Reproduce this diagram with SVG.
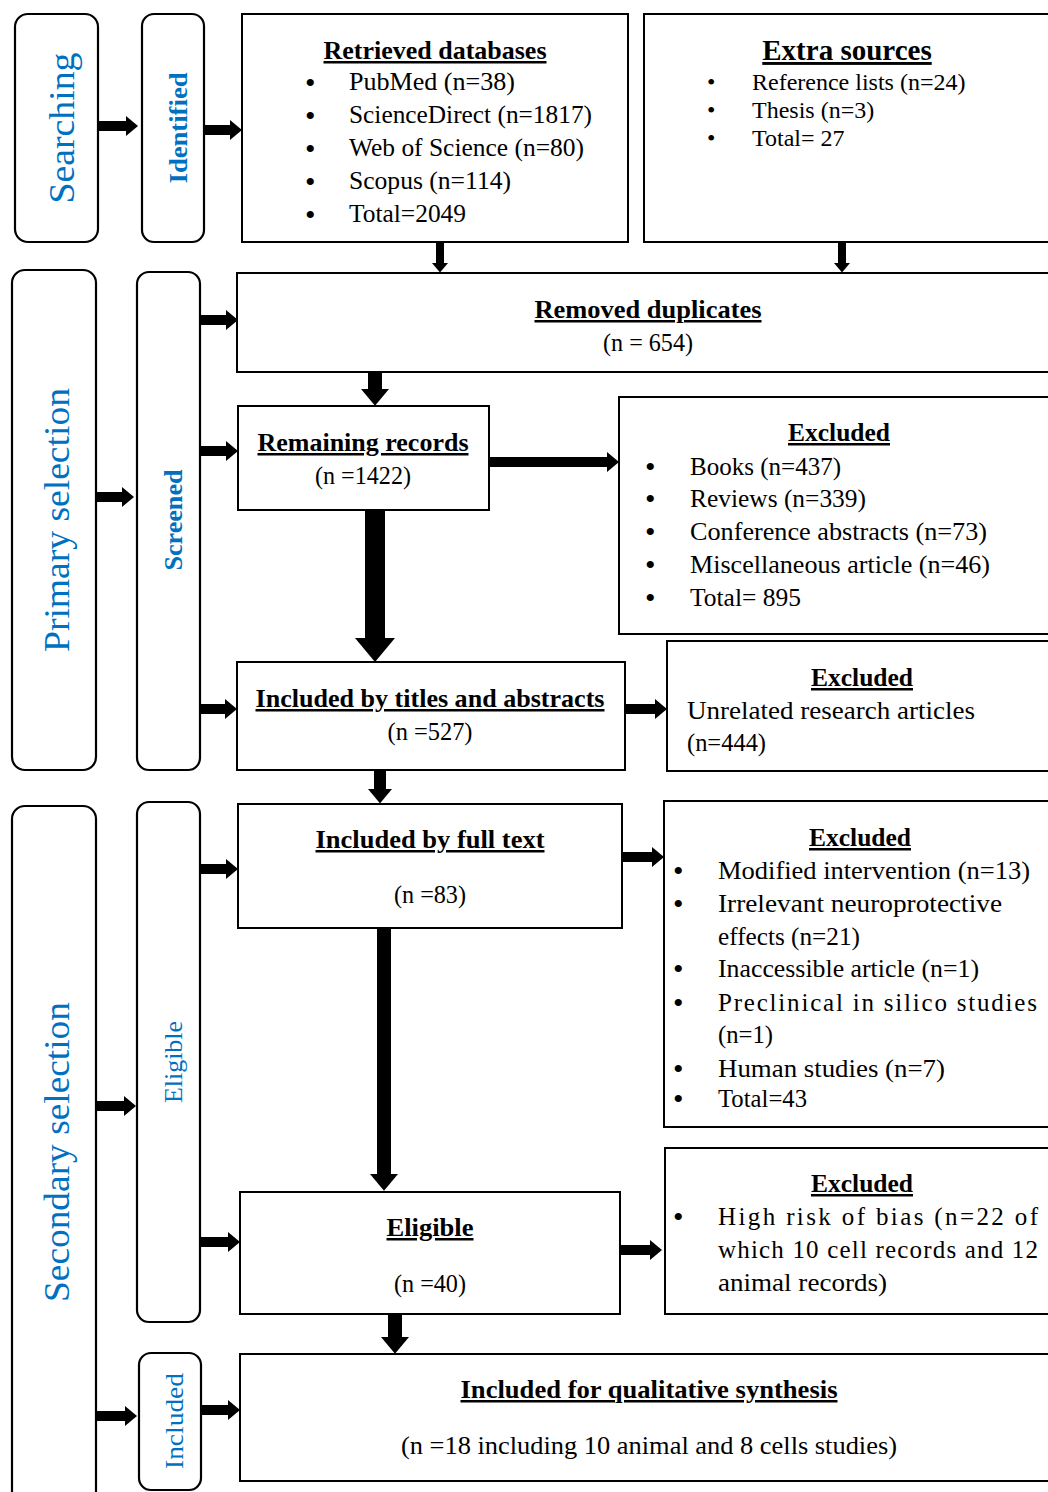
<svg xmlns="http://www.w3.org/2000/svg" width="1048" height="1492" viewBox="0 0 1048 1492">
<style>
.box{fill:#fff;stroke:#000;stroke-width:2}
.side{fill:#fff;stroke:#000;stroke-width:2.2}
.t{font-family:"Liberation Serif",serif;font-size:25px;fill:#000}
.tt{font-family:"Liberation Serif",serif;font-size:24px;fill:#000}
.bul{font-family:"Liberation Serif",serif;font-size:30px;fill:#000}
.h{font-weight:bold;text-decoration:underline}
.c{text-anchor:middle}
.lab{font-family:"Liberation Serif",serif;fill:#0070C0;text-anchor:middle}
.big{font-size:36px}
.small{font-size:26px}
.b{font-weight:bold}
.arr{stroke:#000;fill:none}
</style>
<defs>
<marker id="ah" viewBox="0 0 12 20" refX="0" refY="10" markerWidth="1.2" markerHeight="2" orient="auto" markerUnits="strokeWidth">
<path d="M0,0 L12,10 L0,20 z" fill="#000"/>
</marker>
</defs>

<g id="connectors" class="arr" marker-end="url(#ah)">
<line x1="99" y1="126" x2="126" y2="126" stroke-width="10"/>
<line x1="205" y1="130" x2="230" y2="130" stroke-width="10"/>
<line x1="440" y1="243" x2="440" y2="263" stroke-width="8"/>
<line x1="842" y1="243" x2="842" y2="263" stroke-width="8"/>
<line x1="200" y1="320" x2="226" y2="320" stroke-width="10"/>
<line x1="200" y1="451" x2="226" y2="451" stroke-width="10"/>
<line x1="200" y1="709" x2="225" y2="709" stroke-width="10"/>
<line x1="96" y1="497" x2="122" y2="497" stroke-width="10"/>
<line x1="375" y1="372" x2="375" y2="389" stroke-width="14"/>
<line x1="489" y1="462" x2="607" y2="462" stroke-width="10"/>
<line x1="375" y1="510" x2="375" y2="638" stroke-width="20"/>
<line x1="625" y1="709" x2="655" y2="709" stroke-width="10"/>
<line x1="380" y1="770" x2="380" y2="789" stroke-width="12"/>
<line x1="622" y1="857" x2="652" y2="857" stroke-width="10"/>
<line x1="384" y1="928" x2="384" y2="1174" stroke-width="14"/>
<line x1="620" y1="1250" x2="650" y2="1250" stroke-width="10"/>
<line x1="395" y1="1314" x2="395" y2="1337" stroke-width="14"/>
<line x1="96" y1="1106" x2="124" y2="1106" stroke-width="10"/>
<line x1="96" y1="1416" x2="125" y2="1416" stroke-width="10"/>
<line x1="200" y1="869" x2="226" y2="869" stroke-width="10"/>
<line x1="200" y1="1242" x2="228" y2="1242" stroke-width="10"/>
<line x1="201" y1="1410" x2="228" y2="1410" stroke-width="10"/>
</g>

<g id="searching">
<rect class="side" x="15" y="14" width="83" height="228" rx="13"/>
<text class="lab big" transform="translate(62,128) rotate(-90)" dy="12" textLength="151" lengthAdjust="spacingAndGlyphs">Searching</text>
</g>
<g id="identified">
<rect class="side" x="142" y="14" width="62" height="228" rx="12"/>
<text class="lab small b" transform="translate(178,128) rotate(-90)" dy="9" textLength="111" lengthAdjust="spacingAndGlyphs">Identified</text>
</g>
<g id="retrieved">
<rect class="box" x="242" y="14" width="386" height="228"/>
<text class="t h c" x="435" y="59" textLength="223" lengthAdjust="spacingAndGlyphs">Retrieved databases</text>
<text class="bul" x="305" y="93">•</text><text class="t" x="349" y="90" textLength="166" lengthAdjust="spacingAndGlyphs">PubMed (n=38)</text>
<text class="bul" x="305" y="126">•</text><text class="t" x="349" y="123" textLength="243" lengthAdjust="spacingAndGlyphs">ScienceDirect (n=1817)</text>
<text class="bul" x="305" y="159">•</text><text class="t" x="349" y="156" textLength="235" lengthAdjust="spacingAndGlyphs">Web of Science (n=80)</text>
<text class="bul" x="305" y="192">•</text><text class="t" x="349" y="189" textLength="162" lengthAdjust="spacingAndGlyphs">Scopus (n=114)</text>
<text class="bul" x="305" y="225">•</text><text class="t" x="349" y="222" textLength="117" lengthAdjust="spacingAndGlyphs">Total=2049</text>
</g>
<g id="extra">
<rect class="box" x="644" y="14" width="420" height="228"/>
<text class="tt h c" x="847" y="60" style="font-size:29px">Extra sources</text>
<text class="tt" x="707" y="90">•</text><text class="tt" x="752" y="90">Reference lists (n=24)</text>
<text class="tt" x="707" y="118">•</text><text class="tt" x="752" y="118">Thesis (n=3)</text>
<text class="tt" x="707" y="146">•</text><text class="tt" x="752" y="146">Total= 27</text>
</g>

<g id="primary">
<rect class="side" x="12" y="270" width="84" height="500" rx="13"/>
<text class="lab big" transform="translate(57,520) rotate(-90)" dy="12" textLength="264" lengthAdjust="spacingAndGlyphs">Primary selection</text>
</g>
<g id="screened">
<rect class="side" x="137" y="272" width="63" height="498" rx="12"/>
<text class="lab small b" transform="translate(173,520) rotate(-90)" dy="9" textLength="101" lengthAdjust="spacingAndGlyphs">Screened</text>
</g>
<g id="removed">
<rect class="box" x="237" y="273" width="830" height="99"/>
<text class="t h c" x="648" y="318" textLength="227" lengthAdjust="spacingAndGlyphs">Removed duplicates</text>
<text class="t c" x="648" y="351" textLength="90" lengthAdjust="spacingAndGlyphs">(n = 654)</text>
</g>
<g id="remaining">
<rect class="box" x="238" y="406" width="251" height="104"/>
<text class="t h c" x="363" y="451" textLength="211" lengthAdjust="spacingAndGlyphs">Remaining records</text>
<text class="t c" x="363" y="484" textLength="96" lengthAdjust="spacingAndGlyphs">(n =1422)</text>
</g>
<g id="excluded1">
<rect class="box" x="619" y="397" width="445" height="237"/>
<text class="t h c" x="839" y="441" textLength="102" lengthAdjust="spacingAndGlyphs">Excluded</text>
<text class="bul" x="645" y="477">•</text><text class="t" x="690" y="475" textLength="151" lengthAdjust="spacingAndGlyphs">Books (n=437)</text>
<text class="bul" x="645" y="509">•</text><text class="t" x="690" y="507" textLength="176" lengthAdjust="spacingAndGlyphs">Reviews (n=339)</text>
<text class="bul" x="645" y="542">•</text><text class="t" x="690" y="540" textLength="297" lengthAdjust="spacingAndGlyphs">Conference abstracts (n=73)</text>
<text class="bul" x="645" y="575">•</text><text class="t" x="690" y="573" textLength="300" lengthAdjust="spacingAndGlyphs">Miscellaneous article (n=46)</text>
<text class="bul" x="645" y="608">•</text><text class="t" x="690" y="606" textLength="111" lengthAdjust="spacingAndGlyphs">Total= 895</text>
</g>
<g id="titles">
<rect class="box" x="237" y="662" width="388" height="108"/>
<text class="t h c" x="430" y="707" textLength="349" lengthAdjust="spacingAndGlyphs">Included by titles and abstracts</text>
<text class="t c" x="430" y="740" textLength="85" lengthAdjust="spacingAndGlyphs">(n =527)</text>
</g>
<g id="excluded2">
<rect class="box" x="667" y="641" width="397" height="130"/>
<text class="t h c" x="862" y="686" textLength="102" lengthAdjust="spacingAndGlyphs">Excluded</text>
<text class="t" x="687" y="719" textLength="288" lengthAdjust="spacingAndGlyphs">Unrelated research articles</text>
<text class="t" x="687" y="751" textLength="79" lengthAdjust="spacingAndGlyphs">(n=444)</text>
</g>

<g id="secondary">
<rect class="side" x="12" y="806" width="84" height="700" rx="13"/>
<text class="lab big" transform="translate(57,1152) rotate(-90)" dy="12" textLength="300" lengthAdjust="spacingAndGlyphs">Secondary selection</text>
</g>
<g id="eligible-side">
<rect class="side" x="137" y="802" width="63" height="520" rx="12"/>
<text class="lab small" transform="translate(173,1062) rotate(-90)" dy="9" textLength="82" lengthAdjust="spacingAndGlyphs">Eligible</text>
</g>
<g id="included-side">
<rect class="side" x="139" y="1353" width="62" height="137" rx="12"/>
<text class="lab small" transform="translate(174,1421) rotate(-90)" dy="9" textLength="96" lengthAdjust="spacingAndGlyphs">Included</text>
</g>
<g id="fulltext">
<rect class="box" x="238" y="804" width="384" height="124"/>
<text class="t h c" x="430" y="848" textLength="229" lengthAdjust="spacingAndGlyphs">Included by full text</text>
<text class="t c" x="430" y="903" textLength="72" lengthAdjust="spacingAndGlyphs">(n =83)</text>
</g>
<g id="excluded3">
<rect class="box" x="664" y="801" width="400" height="326"/>
<text class="t h c" x="860" y="846" textLength="102" lengthAdjust="spacingAndGlyphs">Excluded</text>
<text class="bul" x="673" y="881">•</text><text class="t" x="718" y="879" textLength="312" lengthAdjust="spacingAndGlyphs">Modified intervention (n=13)</text>
<text class="bul" x="673" y="914">•</text><text class="t" x="718" y="912" textLength="284" lengthAdjust="spacingAndGlyphs">Irrelevant neuroprotective</text>
<text class="t" x="718" y="945" textLength="142" lengthAdjust="spacingAndGlyphs">effects (n=21)</text>
<text class="bul" x="673" y="979">•</text><text class="t" x="718" y="977" textLength="261" lengthAdjust="spacingAndGlyphs">Inaccessible article (n=1)</text>
<text class="bul" x="673" y="1013">•</text><text class="t" x="718" y="1011" textLength="319" lengthAdjust="spacing">Preclinical in silico studies</text>
<text class="t" x="718" y="1043" textLength="55" lengthAdjust="spacingAndGlyphs">(n=1)</text>
<text class="bul" x="673" y="1079">•</text><text class="t" x="718" y="1077" textLength="227" lengthAdjust="spacingAndGlyphs">Human studies (n=7)</text>
<text class="bul" x="673" y="1109">•</text><text class="t" x="718" y="1107" textLength="89" lengthAdjust="spacingAndGlyphs">Total=43</text>
</g>
<g id="eligible">
<rect class="box" x="240" y="1192" width="380" height="122"/>
<text class="t h c" x="430" y="1236" textLength="87" lengthAdjust="spacingAndGlyphs">Eligible</text>
<text class="t c" x="430" y="1292" textLength="72" lengthAdjust="spacingAndGlyphs">(n =40)</text>
</g>
<g id="excluded4">
<rect class="box" x="665" y="1148" width="399" height="166"/>
<text class="t h c" x="862" y="1192" textLength="102" lengthAdjust="spacingAndGlyphs">Excluded</text>
<text class="bul" x="673" y="1227">•</text><text class="t" x="718" y="1225" textLength="320" lengthAdjust="spacing">High risk of bias (n=22 of</text>
<text class="t" x="718" y="1258" textLength="320" lengthAdjust="spacing">which 10 cell records and 12</text>
<text class="t" x="718" y="1291" textLength="169" lengthAdjust="spacingAndGlyphs">animal records)</text>
</g>
<g id="synthesis">
<rect class="box" x="240" y="1354" width="824" height="127"/>
<text class="t h c" x="649" y="1398" textLength="377" lengthAdjust="spacingAndGlyphs">Included for qualitative synthesis</text>
<text class="t c" x="649" y="1454" textLength="496" lengthAdjust="spacingAndGlyphs">(n =18 including 10 animal and 8 cells studies)</text>
</g>
</svg>
